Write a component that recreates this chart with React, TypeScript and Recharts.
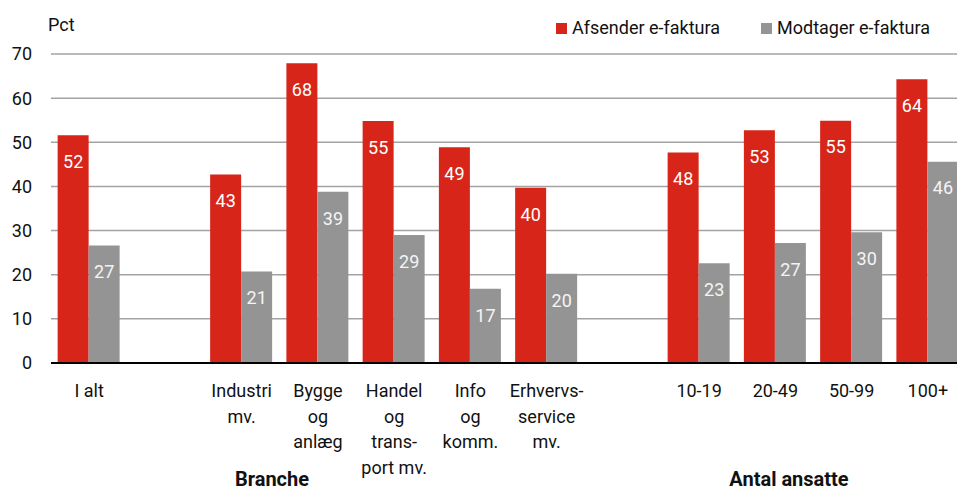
import { Bar, BarChart, CartesianGrid, LabelList, XAxis, YAxis } from "recharts";

const categories = [
  "I alt",
  "",
  "Industri\nmv.",
  "Bygge\nog\nanlæg",
  "Handel\nog\ntrans-\nport mv.",
  "Info\nog\nkomm.",
  "Erhvervs-\nservice\nmv.",
  "",
  "10-19",
  "20-49",
  "50-99",
  "100+",
];
const afsender = [51.6, null, 42.7, 67.9, 54.8, 48.9, 39.7, null, 47.7, 52.7, 54.9, 64.3];
const modtager = [26.6, null, 20.7, 38.8, 29.0, 16.8, 20.2, null, 22.6, 27.2, 29.6, 45.6];
const yTicks = [0, 10, 20, 30, 40, 50, 60, 70];
const seriesNames = ["Afsender e-faktura", "Modtager e-faktura"];
const groupTitles = ["Branche", "Antal ansatte"];
const unitLabel = "Pct";

const RED = "#d8251a";
const GREY = "#949494";

const data = categories.map((label, i) => ({
  key: `c${i}`,
  label,
  afsender: afsender[i],
  modtager: modtager[i],
}));

const labelByKey: Record<string, string> = Object.fromEntries(
  data.map((d) => [d.key, d.label])
);

const fmt = (v: unknown) => (v == null || v === "" ? "" : String(Math.round(Number(v))));

function CategoryTick({ x, y, payload }: any) {
  const lines = (labelByKey[payload.value] ?? "").split("\n");
  return (
    <text x={x} y={y + 26} textAnchor="middle" fontSize={18} fill="#111">
      {lines.map((l: string, i: number) => (
        <tspan key={i} x={x} dy={i === 0 ? 0 : 25.5}>
          {l}
        </tspan>
      ))}
    </text>
  );
}

export default function App() {
  return (
    <div
      style={{
        position: "absolute",
        left: 0,
        top: 0,
        width: 957,
        height: 490,
        overflow: "hidden",
        background: "#fff",
        fontFamily: "Roboto, sans-serif",
        color: "#111",
      }}
    >
      <BarChart
        width={966}
        height={490}
        data={data}
        margin={{ top: 54, right: 0, left: 0, bottom: 0 }}
        barCategoryGap="8.7%"
        barGap={0}
      >
        <CartesianGrid vertical={false} stroke="#a3a3a3" strokeWidth={1.5} />
        <XAxis
          dataKey="key"
          interval={0}
          height={127}
          tick={<CategoryTick />}
          tickLine={false}
          axisLine={{ stroke: "#000", strokeWidth: 2 }}
        />
        <YAxis
          width={51}
          domain={[0, 70]}
          ticks={yTicks}
          axisLine={false}
          tickLine={false}
          tickMargin={13}
          tick={{ fontSize: 18, fill: "#111" }}
        />
        <Bar dataKey="afsender" name={seriesNames[0]} fill={RED} isAnimationActive={false}>
          <LabelList
            dataKey="afsender"
            position="insideTop"
            offset={20}
            formatter={fmt}
            fill="#fff"
            fontSize={18}
          />
        </Bar>
        <Bar dataKey="modtager" name={seriesNames[1]} fill={GREY} isAnimationActive={false}>
          <LabelList
            dataKey="modtager"
            position="insideTop"
            offset={20}
            formatter={fmt}
            fill="#f4f4f4"
            fontSize={18}
          />
        </Bar>
      </BarChart>

      <div style={{ position: "absolute", left: 48, top: 15, fontSize: 18, lineHeight: "20px" }}>
        {unitLabel}
      </div>

      {seriesNames.map((name, i) => (
        <div
          key={name}
          style={{
            position: "absolute",
            left: i === 0 ? 556 : 761,
            top: 18,
            height: 20,
            display: "flex",
            alignItems: "center",
            fontSize: 18,
            lineHeight: "20px",
            whiteSpace: "nowrap",
          }}
        >
          <span
            style={{
              width: 11,
              height: 11,
              background: i === 0 ? RED : GREY,
              marginRight: 5,
              display: "inline-block",
            }}
          />
          {name}
        </div>
      ))}

      {groupTitles.map((t, i) => (
        <div
          key={t}
          style={{
            position: "absolute",
            left: (i === 0 ? 272 : 789) - 100,
            width: 200,
            top: 470,
            textAlign: "center",
            fontSize: 20,
            fontWeight: 700,
            lineHeight: "18px",
          }}
        >
          {t}
        </div>
      ))}
    </div>
  );
}
